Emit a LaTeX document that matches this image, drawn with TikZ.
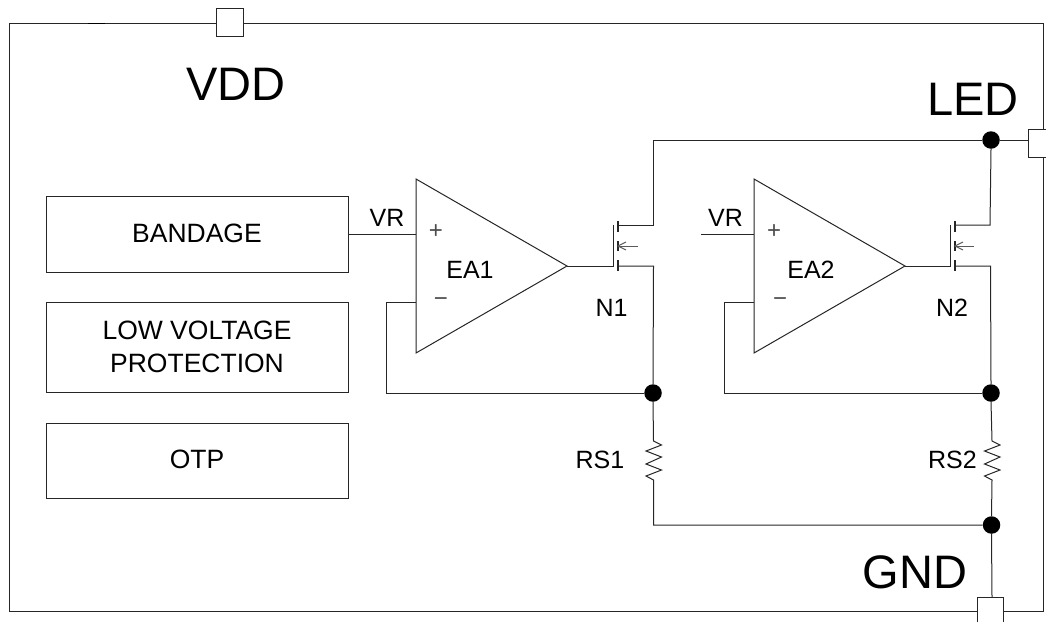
\documentclass[tikz,border=0pt]{standalone}
\usepackage{fontspec}
\setmainfont{Liberation Sans}
\tikzset{
  wire/.style={draw=black!85,line width=1pt,line join=miter},
  blockbox/.style={draw=black!85,line width=1pt,fill=white,inner sep=0pt,align=center,font=\fontsize{26.5}{33}\selectfont},
  padbox/.style={draw=black!85,line width=1pt,fill=white,inner sep=0pt},
  dotnode/.style={circle,fill=black,inner sep=0pt,minimum size=17.5pt},
  lab/.style={inner sep=0pt,font=\fontsize{25}{29}\selectfont},
  biglab/.style={inner sep=0pt,font=\fontsize{47}{50}\selectfont},
  signlab/.style={inner sep=0pt,font=\fontsize{24}{28}\selectfont,text=black!70},
  opamp/.style={draw=black!85,line width=1pt,fill=white,line join=miter}
}
\begin{document}
\begin{tikzpicture}[x=1pt,y=-1pt]
\useasboundingbox (0,0) rectangle (1046,622);
\draw[wire] (1043,157) -- (1043,611.5) -- (9.5,611.5) -- (9.5,23.5) -- (1043,23.5) -- (1043,129);
\draw[line width=1.6pt,black] (88,23.5) -- (105,23.5);

% pads
\node[padbox,minimum width=27pt,minimum height=28pt] (vddpad) at (229.5,22) {};
\fill[white] (1028,129) rectangle (1046,157);
\draw[wire] (1046,129) -- (1028,129) -- (1028,157) -- (1046,157);
\coordinate (ledpad) at (1028,140);
\fill[white] (977,597) rectangle (1003,622);
\draw[wire] (977,622) -- (977,597) -- (1003,597) -- (1003,622);
\coordinate (gndpad) at (992,597);

% blocks
\node[blockbox,minimum width=302pt,minimum height=75.5pt] (bandage) at (197.7,234.5) {};
\node[blockbox,minimum width=302pt,minimum height=90.4pt] (lvp) at (197.7,347.5) {};
\node[blockbox,minimum width=302pt,minimum height=75pt] (otp) at (197.7,460.8) {};
\node[blockbox,draw=none,fill=none] (bandaget) at (197,233) {BANDAGE};
\node[blockbox,draw=none,fill=none] (lvpt) at (197,346.5) {LOW VOLTAGE\\PROTECTION};
\node[blockbox,draw=none,fill=none] (otpt) at (197,459) {OTP};

% op amps
\coordinate (ea1a) at (416,179); \coordinate (ea1b) at (416,353); \coordinate (ea1o) at (567,266);
\coordinate (ea2a) at (754,179); \coordinate (ea2b) at (754,353); \coordinate (ea2o) at (905,266);
\coordinate (ea1p) at (416,234.5); \coordinate (ea1n) at (416,302);
\coordinate (ea2p) at (754,234.5); \coordinate (ea2n) at (754,302);
\draw[opamp] (ea1a) -- (ea1o) -- (ea1b) -- cycle;
\draw[opamp] (ea2a) -- (ea2o) -- (ea2b) -- cycle;
\node[signlab] at (436,232) {+};
\node[signlab] at (441,302) {−};
\node[signlab] at (774,232) {+};
\node[signlab] at (780,302) {−};

% junctions
\node[dotnode] (jled) at (991,140) {};
\node[dotnode] (j1) at (653,393) {};
\node[dotnode] (j2) at (991,393) {};
\node[dotnode] (jgnd) at (991.5,525) {};

% MOSFET N1
\coordinate (g1) at (613.5,266);
\coordinate (d1) at (618,225); \coordinate (s1) at (618,266); \coordinate (b1) at (618,246);
\draw[wire] (ea1o) -- (g1) -- (613.5,225);
\draw[wire,line width=1.2pt] (618,221) -- (618,232) (618,241) -- (618,251) (618,260) -- (618,271);
\draw[wire] (d1) -- (653.5,225) |- (jled.west);
\draw[wire] (s1) -- (653.5,266) -- (j1.north);
\draw[wire,black!65] (638,246) -- (b1);
\draw[wire,black!65] (626,242) -- (b1) -- (626,250);

% MOSFET N2
\coordinate (g2) at (950,266);
\coordinate (d2) at (955,225); \coordinate (s2) at (955,266); \coordinate (b2) at (955,246);
\draw[wire] (ea2o) -- (g2) -- (950,225);
\draw[wire,line width=1.2pt] (955,221) -- (955,232) (955,241) -- (955,251) (955,260) -- (955,271);
\draw[wire] (d2) -- (990,225) -- (jled.south);
\draw[wire] (s2) -- (990.5,266) -- (j2.north);
\draw[wire,black!65] (974,246) -- (b2);
\draw[wire,black!65] (963,242) -- (b2) -- (963,250);

\draw[wire] (jled) -- (ledpad);

% inputs and feedback
\draw[wire] (bandage.east |- ea1p) -- (ea1p);
\coordinate (vr2) at (701,234.5);
\draw[wire] (vr2) -- (ea2p);
\draw[wire] (ea1n) -- (386,302) -- (386,393) -- (j1.west);
\draw[wire] (ea2n) -- (724,302) -- (724,393) -- (j2.west);

% resistors
\draw[wire] (j1.south) -- (653.5,441) -- (661.5,445) -- (646,451) -- (661.5,457) -- (646,464) -- (661.5,470) -- (646,476) -- (653.5,480) -- (653.5,525) -- (jgnd.west);
\draw[wire] (j2.south) -- (992,441) -- (1000,445) -- (984.5,451) -- (1000,457) -- (984.5,464) -- (1000,470) -- (984.5,476) -- (992,480) -- (jgnd.north);
\draw[wire] (jgnd.south) -- (gndpad);

% labels
\node[biglab] at (236,84) {VDD};
\node[biglab] at (973,99) {LED};
\node[biglab] at (915,572) {GND};
\node[lab] at (387,218) {VR};
\node[lab] at (725.5,218) {VR};
\node[lab] at (470,270) {EA1};
\node[lab] at (811,270) {EA2};
\node[lab] at (611.5,308) {N1};
\node[lab] at (952,308) {N2};
\node[lab] at (600,460) {RS1};
\node[lab] at (952.5,460) {RS2};
\end{tikzpicture}
\end{document}
